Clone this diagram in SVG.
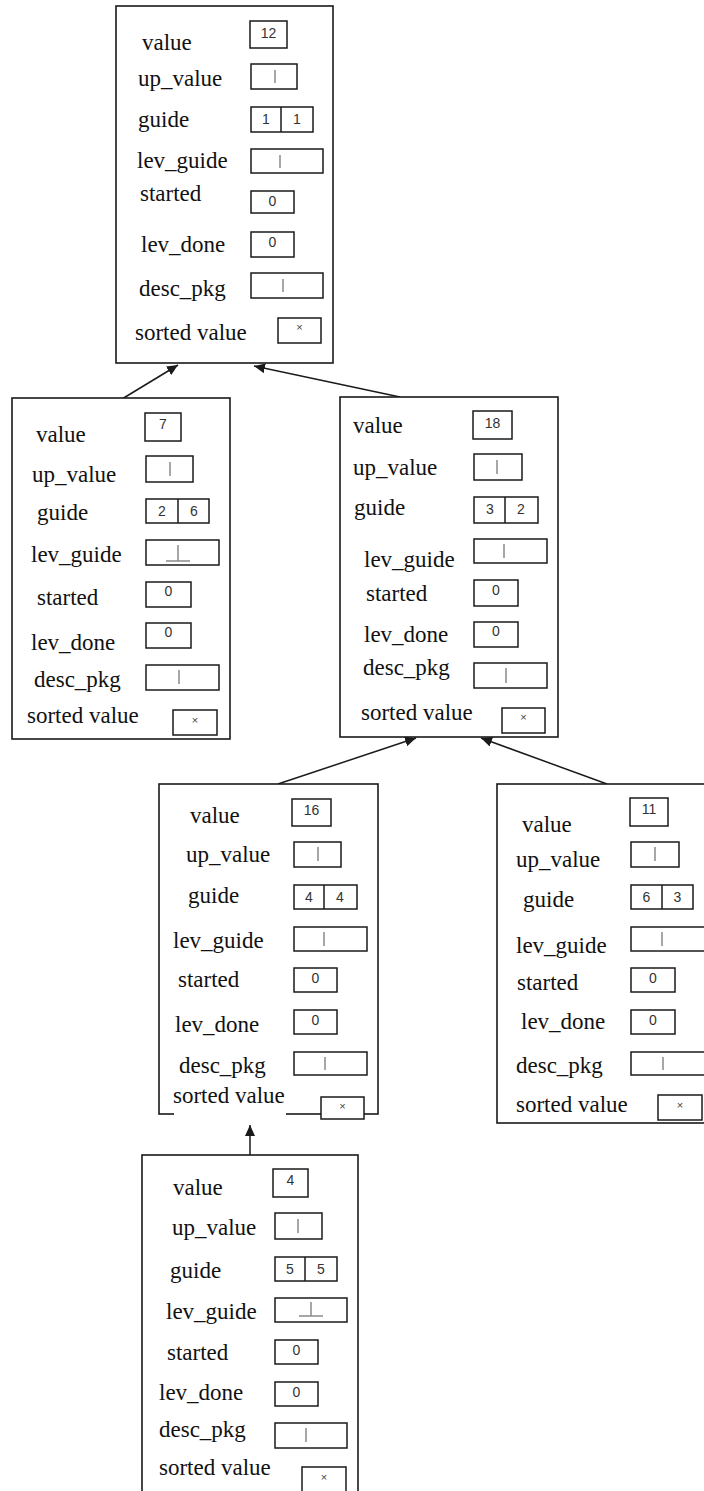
<svg xmlns="http://www.w3.org/2000/svg" width="704" height="1491" viewBox="0 0 704 1491">
<style>
.node{fill:#fff;stroke:#1a1a1a;stroke-width:1.6}
.lbl{font-family:"Liberation Serif",serif;font-size:23px;fill:#111}
.box{fill:#fff;stroke:#1a1a1a;stroke-width:1.5}
.val{font-family:"Liberation Sans",sans-serif;font-size:14px;fill:#333;text-anchor:middle}
.x{font-family:"Liberation Sans",sans-serif;font-size:11px;fill:#444;text-anchor:middle}
.bar{stroke:#8a8a8a;stroke-width:1.5;fill:none}
.conn{stroke:#1a1a1a;stroke-width:1.5;fill:none;marker-end:url(#ah)}
</style>
<defs>
<marker id="ah" markerUnits="userSpaceOnUse" markerWidth="12" markerHeight="10" refX="11" refY="5" orient="auto">
<path d="M0,0 L11,5 L0,10 Z" fill="#1a1a1a"/>
</marker>
</defs>
<rect width="704" height="1491" fill="#fff"/>

<g id="connectors">
<line class="conn" x1="122" y1="399" x2="178" y2="365"/>
<line class="conn" x1="400" y1="397" x2="254" y2="366"/>
<line class="conn" x1="278" y1="784" x2="416" y2="738"/>
<line class="conn" x1="607" y1="784" x2="481" y2="738"/>
<line class="conn" x1="250" y1="1155" x2="250" y2="1125"/>
</g>

<g id="node-12">
<rect class="node" x="116" y="6" width="217" height="357"/>
<text class="lbl" x="142" y="50">value</text>
<rect class="box" x="250" y="21" width="37" height="27"/><text class="val" x="268.5" y="38">12</text>
<text class="lbl" x="138" y="86">up_value</text>
<rect class="box" x="251" y="64" width="46" height="25"/><line class="bar" x1="275" y1="70" x2="275" y2="83"/>
<text class="lbl" x="138" y="127">guide</text>
<rect class="box" x="251" y="107" width="62" height="25"/><line class="box" x1="281" y1="107" x2="281" y2="132"/><text class="val" x="266" y="124">1</text><text class="val" x="297" y="124">1</text>
<text class="lbl" x="137" y="168">lev_guide</text>
<rect class="box" x="251" y="149" width="72" height="24"/><line class="bar" x1="280" y1="155" x2="280" y2="168"/>
<text class="lbl" x="140" y="201">started</text>
<rect class="box" x="251" y="191" width="43" height="22"/><text class="val" x="272.5" y="206">0</text>
<text class="lbl" x="141" y="252">lev_done</text>
<rect class="box" x="251" y="232" width="43" height="25"/><text class="val" x="272.5" y="247">0</text>
<text class="lbl" x="139" y="296">desc_pkg</text>
<rect class="box" x="251" y="273" width="72" height="25"/><line class="bar" x1="283" y1="279" x2="283" y2="292"/>
<text class="lbl" x="135" y="340">sorted value</text>
<rect class="box" x="278" y="318" width="43" height="25"/><text class="x" x="299.5" y="331">×</text>
</g>

<g id="node-7">
<rect class="node" x="12" y="398" width="218" height="341"/>
<text class="lbl" x="36" y="442">value</text>
<rect class="box" x="145" y="413" width="36" height="28"/><text class="val" x="163" y="429">7</text>
<text class="lbl" x="32" y="482">up_value</text>
<rect class="box" x="146" y="456" width="47" height="26"/><line class="bar" x1="170" y1="462" x2="170" y2="476"/>
<text class="lbl" x="37" y="520">guide</text>
<rect class="box" x="146" y="499" width="63" height="24"/><line class="box" x1="178" y1="499" x2="178" y2="523"/><text class="val" x="162" y="516">2</text><text class="val" x="194" y="516">6</text>
<text class="lbl" x="31" y="562">lev_guide</text>
<rect class="box" x="146" y="540" width="73" height="25"/><line class="bar" x1="178" y1="545" x2="178" y2="561"/><line class="bar" x1="166" y1="561" x2="190" y2="561"/>
<text class="lbl" x="37" y="605">started</text>
<rect class="box" x="146" y="582" width="45" height="25"/><text class="val" x="168.5" y="596">0</text>
<text class="lbl" x="31" y="650">lev_done</text>
<rect class="box" x="146" y="623" width="45" height="25"/><text class="val" x="168.5" y="637">0</text>
<text class="lbl" x="34" y="687">desc_pkg</text>
<rect class="box" x="146" y="665" width="73" height="25"/><line class="bar" x1="179" y1="670" x2="179" y2="684"/>
<text class="lbl" x="27" y="723">sorted value</text>
<rect class="box" x="173" y="710" width="44" height="25"/><text class="x" x="195" y="724">×</text>
</g>

<g id="node-18">
<rect class="node" x="340" y="397" width="218" height="340"/>
<text class="lbl" x="353" y="433">value</text>
<rect class="box" x="473" y="411" width="39" height="28"/><text class="val" x="492.5" y="428">18</text>
<text class="lbl" x="353" y="475">up_value</text>
<rect class="box" x="474" y="454" width="48" height="26"/><line class="bar" x1="497" y1="460" x2="497" y2="474"/>
<text class="lbl" x="354" y="515">guide</text>
<rect class="box" x="474" y="497" width="64" height="26"/><line class="box" x1="505" y1="497" x2="505" y2="523"/><text class="val" x="490" y="514">3</text><text class="val" x="521" y="514">2</text>
<text class="lbl" x="364" y="567">lev_guide</text>
<rect class="box" x="474" y="539" width="73" height="24"/><line class="bar" x1="504" y1="544" x2="504" y2="558"/>
<text class="lbl" x="366" y="601">started</text>
<rect class="box" x="474" y="580" width="44" height="26"/><text class="val" x="496" y="595">0</text>
<text class="lbl" x="364" y="642">lev_done</text>
<rect class="box" x="474" y="622" width="44" height="25"/><text class="val" x="496" y="636">0</text>
<text class="lbl" x="363" y="675">desc_pkg</text>
<rect class="box" x="474" y="663" width="73" height="25"/><line class="bar" x1="506" y1="668" x2="506" y2="683"/>
<text class="lbl" x="361" y="720">sorted value</text>
<rect class="box" x="502" y="708" width="43" height="25"/><text class="x" x="523.5" y="721">×</text>
</g>

<g id="node-16">
<rect class="node" x="159" y="784" width="219" height="330"/>
<text class="lbl" x="190" y="823">value</text>
<rect class="box" x="292" y="799" width="39" height="27"/><text class="val" x="311.5" y="815">16</text>
<text class="lbl" x="186" y="862">up_value</text>
<rect class="box" x="294" y="842" width="47" height="25"/><line class="bar" x1="318" y1="847" x2="318" y2="861"/>
<text class="lbl" x="188" y="903">guide</text>
<rect class="box" x="294" y="885" width="63" height="24"/><line class="box" x1="324" y1="885" x2="324" y2="909"/><text class="val" x="309" y="902">4</text><text class="val" x="340" y="902">4</text>
<text class="lbl" x="173" y="948">lev_guide</text>
<rect class="box" x="294" y="927" width="73" height="24"/><line class="bar" x1="324" y1="932" x2="324" y2="946"/>
<text class="lbl" x="178" y="987">started</text>
<rect class="box" x="294" y="968" width="43" height="24"/><text class="val" x="315.5" y="983">0</text>
<text class="lbl" x="175" y="1032">lev_done</text>
<rect class="box" x="294" y="1010" width="43" height="24"/><text class="val" x="315.5" y="1025">0</text>
<text class="lbl" x="179" y="1073">desc_pkg</text>
<rect class="box" x="294" y="1052" width="73" height="23"/><line class="bar" x1="325" y1="1057" x2="325" y2="1070"/>
<rect x="174" y="1108" width="112" height="10" fill="#fff"/>
<text class="lbl" x="173" y="1103">sorted value</text>
<rect class="box" x="321" y="1097" width="43" height="22"/><text class="x" x="342.5" y="1110">×</text>
</g>

<g id="node-11">
<rect class="node" x="497" y="784" width="215" height="339"/>
<text class="lbl" x="522" y="832">value</text>
<rect class="box" x="630" y="798" width="38" height="28"/><text class="val" x="649" y="814">11</text>
<text class="lbl" x="516" y="867">up_value</text>
<rect class="box" x="631" y="842" width="48" height="25"/><line class="bar" x1="655" y1="847" x2="655" y2="861"/>
<text class="lbl" x="523" y="907">guide</text>
<rect class="box" x="631" y="885" width="62" height="24"/><line class="box" x1="662" y1="885" x2="662" y2="909"/><text class="val" x="646.5" y="902">6</text><text class="val" x="677.5" y="902">3</text>
<text class="lbl" x="516" y="953">lev_guide</text>
<rect class="box" x="631" y="927" width="75" height="24"/><line class="bar" x1="662" y1="932" x2="662" y2="946"/>
<text class="lbl" x="517" y="990">started</text>
<rect class="box" x="631" y="968" width="44" height="24"/><text class="val" x="653" y="983">0</text>
<text class="lbl" x="521" y="1029">lev_done</text>
<rect class="box" x="631" y="1010" width="44" height="24"/><text class="val" x="653" y="1025">0</text>
<text class="lbl" x="516" y="1073">desc_pkg</text>
<rect class="box" x="631" y="1052" width="75" height="23"/><line class="bar" x1="663" y1="1057" x2="663" y2="1070"/>
<text class="lbl" x="516" y="1112">sorted value</text>
<rect class="box" x="658" y="1095" width="44" height="25"/><text class="x" x="680" y="1109">×</text>
</g>

<g id="node-4">
<rect class="node" x="142" y="1155" width="216" height="345"/>
<text class="lbl" x="173" y="1195">value</text>
<rect class="box" x="273" y="1169" width="35" height="28"/><text class="val" x="290.5" y="1185">4</text>
<text class="lbl" x="172" y="1235">up_value</text>
<rect class="box" x="275" y="1213" width="47" height="26"/><line class="bar" x1="298" y1="1219" x2="298" y2="1233"/>
<text class="lbl" x="170" y="1278">guide</text>
<rect class="box" x="275" y="1257" width="62" height="24"/><line class="box" x1="305" y1="1257" x2="305" y2="1281"/><text class="val" x="290" y="1274">5</text><text class="val" x="321" y="1274">5</text>
<text class="lbl" x="166" y="1319">lev_guide</text>
<rect class="box" x="275" y="1298" width="72" height="24"/><line class="bar" x1="311" y1="1302" x2="311" y2="1316"/><line class="bar" x1="299" y1="1316" x2="323" y2="1316"/>
<text class="lbl" x="167" y="1360">started</text>
<rect class="box" x="275" y="1340" width="43" height="24"/><text class="val" x="296.5" y="1355">0</text>
<text class="lbl" x="159" y="1400">lev_done</text>
<rect class="box" x="275" y="1382" width="43" height="24"/><text class="val" x="296.5" y="1397">0</text>
<text class="lbl" x="159" y="1437">desc_pkg</text>
<rect class="box" x="275" y="1423" width="72" height="25"/><line class="bar" x1="306" y1="1428" x2="306" y2="1442"/>
<text class="lbl" x="159" y="1475">sorted value</text>
<rect class="box" x="302" y="1467" width="44" height="28"/><text class="x" x="324" y="1481">×</text>
</g>
</svg>
